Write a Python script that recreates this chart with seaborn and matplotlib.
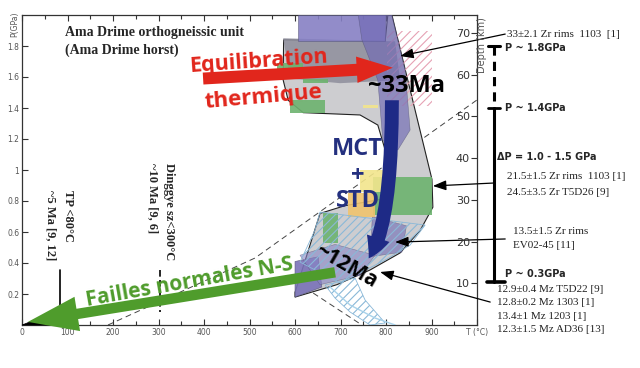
import matplotlib
matplotlib.use("Agg")
import matplotlib.pyplot as plt
import seaborn as sns
import pandas as pd

# --- axes -----------------------------------------------------------------
t_ticks = [0, 100, 200, 300, 400, 500, 600, 700, 800, 900, 1000]
t_labels = ["0", "100", "200", "300", "400", "500", "600", "700", "800", "900", "T (°C)"]
t_minor = [50, 150, 250, 350, 450, 550, 650, 750, 850, 950]
p_ticks = [0.2, 0.4, 0.6, 0.8, 1.0, 1.2, 1.4, 1.6, 1.8]
p_labels = ["0.2", "0.4", "0.6", "0.8", "1", "1.2", "1.4", "1.6", "1.8"]
depth_ticks = [10, 20, 30, 40, 50, 60, 70]

# --- P-T fields (T in °C, P in GPa) ---------------------------------------
grey_T = [575, 798, 804, 813, 901, 903, 875, 831, 765, 692, 600, 600, 655, 710, 787, 804, 798, 782, 743, 618, 585, 574]
grey_P = [1.84, 1.83, 2.0, 2.0, 0.94, 0.76, 0.61, 0.465, 0.355, 0.26, 0.18, 0.21, 0.72, 0.77, 0.81, 0.935, 1.13, 1.29, 1.355, 1.37, 1.45, 1.58]
band_T = [574, 820, 831, 699, 589]
band_P = [1.85, 1.83, 1.58, 1.56, 1.59]

purple_top_T = [607, 798, 798, 607]
purple_top_P = [1.83, 1.83, 2.0, 2.0]
purple_wedge_T = [739, 813, 842, 853, 826, 793, 782, 747]
purple_wedge_P = [2.0, 2.0, 1.645, 1.258, 1.129, 1.19, 1.58, 1.84]
purple_low_T = [600, 651, 659, 600]
purple_low_P = [0.41, 0.44, 0.245, 0.18]
purple_mid_T = [611, 688, 776, 743, 655]
purple_mid_P = [0.45, 0.52, 0.45, 0.32, 0.26]
purple_head_T = [770, 845, 835, 765]
purple_head_P = [0.70, 0.64, 0.47, 0.44]

pink_box = (802, 901, 1.41, 1.90)
green_boxes = [(772, 901, 0.71, 0.955), (662, 695, 0.53, 0.72), (560, 618, 1.645, 1.69),
               (589, 666, 1.37, 1.45), (618, 673, 1.56, 1.59)]
yellow_boxes = [(743, 804, 0.86, 1.0), (750, 782, 1.40, 1.42)]
orange_boxes = [(716, 776, 0.70, 0.85)]

hatch1_T = [655, 886, 853, 798, 699, 611, 644]
hatch1_P = [0.729, 0.645, 0.516, 0.419, 0.271, 0.406, 0.613]
hatch2_T = [666, 732, 754, 798, 765, 721, 688]
hatch2_P = [0.258, 0.303, 0.161, 0.013, 0.0, 0.084, 0.174]
blue_curve_T = [677, 721, 776, 820]
blue_curve_P = [0.245, 0.129, 0.045, 0.0]

geo1_T = [189, 512, 1000]
geo1_P = [0.0, 0.432, 1.452]
geo2_T = [640, 747]
geo2_P = [0.206, 0.0]

wedge_T = [0, 35, 75, 60]
wedge_P = [0.0, 0.04, 0.03, 0.0]

# arrows: (tail T, tail P, tip T, tip P)
red_arrow = (398, 1.59, 815, 1.66)
blue_arrow = (813, 1.45, 762, 0.43)
green_arrow = (688, 0.34, 13, 0.02)

# pressure bar at right
bar_T = 1037
bar_dash_P = [1.8, 1.4]
bar_solid_P = [1.4, 0.28]

sns.set_theme(style="white")
plt.rcParams["font.family"] = ["DejaVu Sans"]
plt.rcParams["hatch.linewidth"] = 0.8

fig = plt.figure(figsize=(6.4, 3.68), dpi=100)
ax = fig.add_axes([22 / 640, 1 - 325 / 368, 455 / 640, 310 / 368])
ax.set_xlim(0, 1000)
ax.set_ylim(0, 2.0)

geo = pd.DataFrame({"T": geo1_T, "P": geo1_P})
sns.lineplot(data=geo, x="T", y="P", sort=False, estimator=None, ax=ax,
             color="#444444", lw=0.7, linestyle=(0, (6, 4)), zorder=1)
geo_b = pd.DataFrame({"T": geo2_T, "P": geo2_P})
sns.lineplot(data=geo_b, x="T", y="P", sort=False, estimator=None, ax=ax,
             color="#444444", lw=0.7, linestyle=(0, (6, 4)), zorder=1)

ax.fill(grey_T, grey_P, fc="#cdcdd0", ec="#222222", lw=0.8, zorder=2)
ax.fill(band_T, band_P, fc="#8e8e9c", ec="none", alpha=0.85, zorder=2.1)
ax.fill([pink_box[0], pink_box[1], pink_box[1], pink_box[0]],
        [pink_box[2], pink_box[2], pink_box[3], pink_box[3]],
        fc="none", ec="#e6a2b4", hatch="////", lw=0, zorder=2.2)

for T, P, c, a in [(purple_top_T, purple_top_P, "#8680c4", 0.9),
                   (purple_wedge_T, purple_wedge_P, "#6f68b4", 0.65),
                   (purple_low_T, purple_low_P, "#7a72b8", 0.9),
                   (purple_mid_T, purple_mid_P, "#8a86c6", 0.6),
                   (purple_head_T, purple_head_P, "#6d6ab4", 0.6)]:
    ax.fill(T, P, fc=c, ec="#555577", lw=0.4, alpha=a, zorder=3)

for boxes, c in [(green_boxes, "#6db36f"), (yellow_boxes, "#f2e58c"), (orange_boxes, "#f0c36d")]:
    for t0, t1, p0, p1 in boxes:
        ax.fill([t0, t1, t1, t0], [p0, p0, p1, p1], fc=c, ec="none", alpha=0.9, zorder=3.2)

ax.fill(hatch1_T, hatch1_P, fc="none", ec="#8ab8d8", hatch="////", lw=0.6, zorder=3.4)
ax.fill(hatch2_T, hatch2_P, fc="none", ec="#8ab8d8", hatch="////", lw=0.6, zorder=3.4)
ax.plot(blue_curve_T, blue_curve_P, color="#a8d2ea", lw=1.0, zorder=3.4)
ax.fill(wedge_T, wedge_P, fc="black", ec="black", lw=0.5, zorder=4, clip_on=False)

# vertical markers
ax.plot([84, 84], [0.355, 0.03], color="black", lw=1.2, zorder=4)
ax.plot([303, 303], [0.355, 0.084], color="black", lw=1.2, linestyle=(0, (4, 2)), zorder=4)

# big arrows
def big_arrow(a, color, tw, hw, hl, conn="arc3,rad=0.0", z=5):
    ax.annotate("", xy=(a[2], a[3]), xytext=(a[0], a[1]), zorder=z,
                arrowprops=dict(arrowstyle=f"simple,head_length={hl},head_width={hw},tail_width={tw}",
                                fc=color, ec="none", shrinkA=0, shrinkB=0, mutation_scale=1,
                                connectionstyle=conn))

big_arrow(red_arrow, "#e1261c", 8.6, 19, 26)
big_arrow(blue_arrow, "#1e2a86", 10, 17, 16, conn="angle3,angleA=90,angleB=55")
big_arrow(green_arrow, "#4f9c2c", 7.5, 25, 36)

sans = "Open Sans"
serif = "Liberation Serif"
ax.text(95, 1.884, "Ama Drime orthogneissic unit", family=serif, weight="bold", fontsize=10, va="center", zorder=6)
ax.text(95, 1.774, "(Ama Drime horst)", family=serif, weight="bold", fontsize=10, va="center", zorder=6)
ax.text(519, 1.70, "Equilibration", family=sans, weight="bold", fontsize=15.5, color="#e1261c",
        ha="center", va="center", rotation=4, zorder=6)
ax.text(530, 1.47, "thermique", family=sans, weight="bold", fontsize=16, color="#e1261c",
        ha="center", va="center", rotation=5, zorder=6)
ax.text(844, 1.54, "~33Ma", family=sans, weight="bold", fontsize=17, color="black",
        ha="center", va="center", zorder=6)
for y, s in [(1.135, "MCT"), (0.96, "+"), (0.80, "STD")]:
    ax.text(738, y, s, family=sans, weight="bold", fontsize=17, color="#24307f",
            ha="center", va="center", zorder=6)
ax.text(712, 0.38, "~12Ma", family=sans, weight="bold", fontsize=15, color="black",
        ha="center", va="center", rotation=-30, zorder=6)
ax.text(369, 0.277, "Failles normales N-S", family=sans, weight="bold", fontsize=15, color="#4f9c2c",
        ha="center", va="center", rotation=10, zorder=6)

for x, y, s in [(101, 0.87, "TP <80°C"), (64, 0.87, "~5 Ma [9, 12]"),
                (323, 1.045, "Dinggye sz<300°C"), (288, 1.045, "~10 Ma [9, 6]")]:
    ax.text(x, y, s, family=serif, weight="bold", fontsize=9, rotation=-90,
            ha="center", va="top", zorder=6)

# pressure bar and labels
ax.plot([bar_T, bar_T], bar_dash_P, color="black", lw=2.2, linestyle=(0, (3, 2)), clip_on=False)
ax.plot([bar_T, bar_T], bar_solid_P, color="black", lw=2.2, clip_on=False)
ax.plot([1024, 1050], [1.8, 1.8], color="black", lw=2.2, clip_on=False)
ax.plot([1024, 1050], [1.4, 1.4], color="black", lw=2.0, clip_on=False)
ax.plot([1022, 1062], [0.28, 0.28], color="black", lw=2.6, clip_on=False)
for x, y, s in [(1062, 1.79, "P ~ 1.8GPa"), (1062, 1.40, "P ~ 1.4GPa"),
                (1044, 1.084, "ΔP = 1.0 - 1.5 GPa"), (1062, 0.33, "P ~ 0.3GPa")]:
    ax.text(x, y, s, family="DejaVu Sans", weight="bold", fontsize=7,
            va="center", clip_on=False)

# sample annotations
notes = [(1066, 1.877, "33±2.1 Zr rims  1103  [1]"),
         (1066, 0.961, "21.5±1.5 Zr rims  1103 [1]"),
         (1066, 0.858, "24.5±3.5 Zr T5D26 [9]"),
         (1079, 0.606, "13.5±1.5 Zr rims"),
         (1079, 0.51, "EV02-45 [11]"),
         (1044, 0.226, "12.9±0.4 Mz T5D22 [9]"),
         (1044, 0.142, "12.8±0.2 Mz 1303 [1]"),
         (1044, 0.055, "13.4±1 Mz 1203 [1]"),
         (1044, -0.03, "12.3±1.5 Mz AD36 [13]")]
for x, y, s in notes:
    ax.text(x, y, s, family=serif, fontsize=8, color="#222222", va="center", clip_on=False)

pointers = [(1062, 1.877, 831, 1.735), (1037, 0.916, 903, 0.897),
            (1062, 0.555, 820, 0.535), (1029, 0.148, 787, 0.342)]
for x0, y0, x1, y1 in pointers:
    ax.annotate("", xy=(x1, y1), xytext=(x0, y0), annotation_clip=False, zorder=7,
                arrowprops=dict(arrowstyle="-|>,head_length=0.8,head_width=0.3", color="black",
                                lw=0.9, shrinkA=0, shrinkB=0, mutation_scale=10))

# ticks
ax.set_xticks(t_ticks)
ax.set_xticklabels(t_labels)
ax.set_xticks(t_minor, minor=True)
ax.set_yticks(p_ticks)
ax.set_yticklabels(p_labels)
ax.tick_params(axis="both", which="both", direction="in", top=True, bottom=True, left=True,
               length=4, width=0.8, colors="#333333", labelsize=5.5, labelcolor="#555555", pad=2)
ax.tick_params(axis="x", which="minor", length=3)
for sp in ax.spines.values():
    sp.set_color("#333333")
    sp.set_linewidth(0.9)
ax.set_xlabel("")
ax.set_ylabel("")
ax.text(-0.015, 0.971, "P(GPa)", transform=ax.transAxes, rotation=90, fontsize=5.5,
        color="#555555", ha="center", va="center")

ax2 = ax.twinx()
ax2.set_ylim(0, 74.3)
ax2.set_yticks(depth_ticks)
ax2.tick_params(axis="y", direction="in", length=4, width=0.8, pad=-5, labelsize=8,
                colors="#333333", labelcolor="#333333")
for lbl in ax2.get_yticklabels():
    lbl.set_horizontalalignment("right")
for sp in ax2.spines.values():
    sp.set_visible(False)
ax2.text(1.012, 0.903, "Depth (km)", transform=ax2.transAxes, rotation=90, fontsize=7,
         color="#555555", ha="center", va="center")

fig.savefig("out.png", dpi=100)
